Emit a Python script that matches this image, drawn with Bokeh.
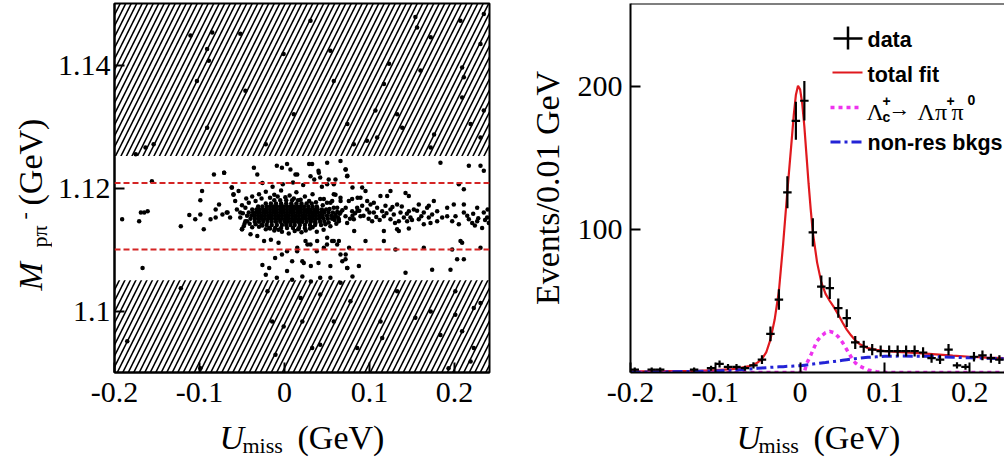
import math
from bokeh.plotting import figure
from bokeh.layouts import row, column
from bokeh.models import Label, Arrow, BoxAnnotation, Span, FixedTicker
from bokeh.embed import file_html
from bokeh.resources import INLINE

# ---------------- left panel data (U_miss, M_ppi in MeV) ----------------
x_ticks = [-0.2, -0.1, 0.0, 0.1, 0.2]
x_tick_labels = ["-0.2", "-0.1", "0", "0.1", "0.2"]
m_ticks = [1.10, 1.12, 1.14]
m_tick_labels = ["1.1", "1.12", "1.14"]
veto_lower = [1.090, 1.105]
veto_upper = [1.1252, 1.150]
signal_window = [1.1100, 1.1208]

core_rows_m = [1113.5, 1114.0, 1114.5, 1115.0, 1115.5, 1116.0, 1116.5, 1117.0, 1117.5, 1118.0]
core_rows_u = [
    [-18, -11, -4, 3, 10, 17, 24],
    [-27, -21, -15, -9, -3, 2, 7, 12, 18, 24, 30, 36],
    [-35, -30, -25, -20, -15, -10, -5, 0, 4, 8, 12, 16, 21, 26, 31, 36, 42, 47],
    [-40, -35, -31, -27, -23, -19, -15, -11, -7, -3, 1, 5, 9, 13, 17, 21, 25, 29, 33, 37, 41, 46, 51, 56],
    [-44, -39, -35, -31, -27, -23, -19, -15, -11, -7, -3, 1, 5, 9, 13, 17, 21, 25, 29, 33, 37, 41, 45, 50, 55, 60],
    [-42, -37, -33, -29, -25, -21, -17, -13, -9, -5, -1, 3, 7, 11, 15, 19, 23, 27, 31, 35, 39, 43, 47, 52, 57],
    [-38, -33, -29, -25, -21, -17, -13, -9, -5, -1, 3, 7, 11, 15, 19, 23, 27, 31, 35, 39, 44, 49],
    [-31, -26, -21, -17, -13, -9, -5, -1, 3, 7, 11, 15, 19, 23, 28, 33, 38],
    [-22, -16, -10, -4, 2, 8, 14, 20, 26, 32],
    [-12, -5, 2, 9, 16],
]

halo_points = [
    (-71, 1122.5), (-36, 1123.3), (-32, 1122.2), (-9, 1123.6), (-3, 1123.3), (3, 1123.9), (7, 1123.0),
    (15, 1122.2), (29, 1123.9), (35, 1121.4), (40, 1122.8), (42, 1121.7), (52, 1121.4), (60, 1121.4),
    (72, 1123.0), (74, 1122.0), (80, 1120.1), (-62, 1120.1), (-60, 1118.9), (-58, 1117.9), (-68, 1116.0),
    (-56, 1116.5), (-52, 1115.2), (-48, 1113.8), (-50, 1113.3), (-40, 1112.5), (-32, 1112.2), (-24, 1111.4),
    (-16, 1111.6), (-7, 1111.1), (3, 1109.7), (15, 1110.3), (27, 1110.8), (38, 1109.7), (50, 1110.8),
    (56, 1111.4), (64, 1111.4), (76, 1110.3), (72, 1109.2), (-26, 1107.5), (-18, 1107.0), (-11, 1108.6),
    (-3, 1109.2), (9, 1108.1), (21, 1108.1), (31, 1107.3), (40, 1107.8), (54, 1107.3), (68, 1108.1),
    (74, 1107.0), (-22, 1105.9), (-9, 1105.4), (3, 1106.5), (9, 1105.1), (21, 1105.6), (31, 1104.8),
    (42, 1105.4), (54, 1105.4), (66, 1104.6), (80, 1105.6), (-64, 1115.2), (80, 1115.5), (86, 1116.3),
    (82, 1113.0), (86, 1118.4), (66, 1117.9), (60, 1118.9), (-50, 1117.2), (-47, 1114.2), (-45, 1118.3),
    (-38, 1118.6), (-30, 1119.0), (-22, 1119.4), (-12, 1118.9), (-4, 1119.6), (6, 1118.8), (14, 1119.3),
    (24, 1118.6), (33, 1119.0), (42, 1118.2), (50, 1117.6), (58, 1116.8), (63, 1115.2), (61, 1114.2),
    (54, 1113.8), (46, 1113.2), (38, 1112.9), (30, 1113.4), (20, 1112.8), (12, 1113.0), (5, 1112.6),
    (-3, 1112.9), (-12, 1113.1), (-22, 1113.3), (-30, 1113.7), (-38, 1113.6), (-44, 1114.6), (-2, 1120.6),
    (10, 1120.9), (-14, 1120.2), (22, 1120.5), (-26, 1120.8), (44, 1120.2),
    (-49, 1115.9), (-46, 1116.8), (-42, 1117.6), (-34, 1117.9), (-27, 1118.3), (-17, 1118.4), (-8, 1118.6),
    (1, 1118.5), (11, 1118.3), (19, 1118.1), (29, 1117.9), (37, 1117.7), (45, 1117.2), (53, 1116.6),
    (62, 1116.1), (65, 1115.8), (59, 1114.8), (52, 1114.4), (43, 1114.0), (33, 1113.6), (25, 1113.1),
    (16, 1113.3), (-7, 1113.2), (-17, 1113.4), (-26, 1113.9), (-34, 1114.1), (-41, 1114.2),
]

left_band_points = [
    (-191, 1114.9), (-171, 1114.6), (-169, 1116.0), (-165, 1116.0), (-161, 1116.2), (-167, 1107.0),
    (-156, 1121.1), (-122, 1113.8), (-112, 1115.6), (-105, 1114.9), (-99, 1115.7), (-95, 1113.3),
    (-99, 1118.0), (-97, 1119.5), (-87, 1114.9), (-81, 1115.2), (-81, 1116.5), (-77, 1117.3),
    (-73, 1115.7), (-67, 1116.0), (-83, 1122.2), (-71, 1122.5), (-62, 1120.1), (-60, 1119.0),
    (-54, 1119.5), (-52, 1116.0), (-46, 1114.6), (-50, 1113.3),
]

right_band_points = [
    (12.9, 1122.2), (32.5, 1123.9), (30.6, 1121.9), (40.4, 1122.5), (50.2, 1124.1), (71.8, 1123.0),
    (73.7, 1121.9), (65.9, 1124.4), (50.2, 1120.6), (58, 1120.6), (91.4, 1120.1), (95.3, 1119.5),
    (112.9, 1118.7), (124.7, 1119.5), (120.8, 1118.7), (142.4, 1119.2), (146.3, 1118.7), (183.5, 1124.1),
    (216.9, 1123.6), (230.6, 1123.6), (234.5, 1122.8), (205.1, 1120.6), (211, 1119.8),
    (54.1, 1117.6), (62, 1116.8), (65.9, 1116.0), (71.8, 1115.4), (75.7, 1117.9), (79.6, 1116.2),
    (85.5, 1116.8), (91.4, 1117.1), (97.3, 1116.5), (101.2, 1117.3), (105.1, 1116.0), (109, 1116.8),
    (114.9, 1116.2), (118.8, 1117.1), (124.7, 1116.5), (128.6, 1115.7), (132.5, 1117.3), (136.5, 1116.0),
    (140.4, 1115.2), (146.3, 1116.2), (152.2, 1116.5), (158, 1117.3), (163.9, 1116.0), (167.8, 1116.8),
    (169.8, 1115.2), (173.7, 1115.7), (179.6, 1114.6), (185.5, 1115.2), (191.4, 1115.4), (197.3, 1114.6),
    (201.2, 1115.4), (205.1, 1114.1), (211, 1116.0), (216.9, 1114.9), (220.8, 1114.3), (226.7, 1114.6),
    (232.5, 1113.5), (238.4, 1115.2), (134.5, 1114.6), (144.3, 1114.6), (148.2, 1115.2), (158, 1114.9),
    (163.9, 1114.1), (171.8, 1114.3), (124.7, 1114.9), (116.9, 1115.4), (103.1, 1114.6), (89.4, 1115.4),
    (81.6, 1114.9), (73.7, 1114.3), (63.9, 1114.6), (58, 1115.2), (46.3, 1116.2), (42.4, 1115.2),
    (38.4, 1116.8), (34.5, 1116.0), (30.6, 1115.2), (26.7, 1116.2), (22.7, 1115.4), (18.8, 1114.6),
    (14.9, 1116.8), (36.5, 1114.3), (48.2, 1114.1), (56.1, 1117.9), (46.3, 1118.2), (58, 1119.0),
    (65.9, 1118.4), (79.6, 1118.2), (89.4, 1118.4), (97.3, 1117.9), (105.1, 1117.6), (199.2, 1117.3),
    (211, 1117.3), (226.7, 1116.8), (234.5, 1116.0), (240.4, 1114.3), (175.7, 1117.9), (191.4, 1116.8),
    (132.5, 1113.3), (146.3, 1113.4), (169.8, 1117.1), (179.6, 1116.2),
    (60, 1115.6), (64, 1114.9), (68, 1116.4), (72, 1116.8), (77, 1115.0), (83, 1115.9), (88, 1116.3),
    (93, 1115.5), (99, 1115.0), (100, 1116.0), (108, 1115.3), (112, 1114.8), (120, 1115.9), (127, 1116.9),
    (130, 1114.3), (138, 1117.0), (144, 1115.8), (150, 1114.8), (156, 1116.3), (161, 1115.4),
    (215, 1115.5), (222, 1115.8), (228, 1115.1), (236, 1114.8), (239, 1116.5), (224, 1113.9),
    (116.9, 1113.0), (134.5, 1113.0), (24.7, 1111.4), (30.6, 1110.8), (38.4, 1111.4), (46.3, 1110.3),
    (58, 1111.4), (62, 1110.8), (65.9, 1109.2), (71.8, 1108.4), (73.7, 1107.0), (87.5, 1107.3),
    (116.9, 1111.4), (130.6, 1110.0), (142.4, 1106.2), (163.9, 1110.3), (173.7, 1106.7), (195.3, 1106.7),
    (203.1, 1108.4), (211, 1108.4), (197.3, 1110.0), (207.1, 1111.4), (209, 1111.1), (230.6, 1110.3),
    (22.7, 1107.8), (14.9, 1109.7), (50.2, 1111.9), (95.3, 1111.4),
]

veto_points = [
    (-110.6, 1144.8), (-85, 1145.3), (-91, 1142.6), (-89, 1140.7), (-103, 1137.4), (-91, 1129.8),
    (-52, 1145.1), (-46, 1135.8), (-1, 1141.8), (11, 1132.0), (-22, 1127.1), (54, 1142.3), (58, 1137.4),
    (74, 1130.4), (81.5, 1127.1), (97, 1127.7), (109, 1128.2), (107, 1132.6), (123, 1140.2),
    (132.5, 1132.0), (138.5, 1129.8), (154, 1147.8), (156, 1146.1), (160, 1139.1), (172, 1144.5),
    (176, 1128.7), (207, 1147.2), (209, 1139.6), (211, 1138.0), (209, 1134.7), (230.6, 1143.4),
    (234.5, 1148.3), (234.5, 1132.6), (219, 1130.4), (230.6, 1128.2), (117, 1136.9), (30.6, 1147.2),
    (-175, 1125.5), (-163.5, 1126.6), (-154, 1127.1), (172, 1126.6),
    (-20, 1103.2), (-14.5, 1098.3), (-1, 1097.5), (19, 1102.1), (21, 1098.3), (42, 1102.7), (42, 1094.5),
    (32.6, 1094.0), (58, 1098.3), (77.6, 1101.6), (85.5, 1094.0), (113, 1098.3), (115, 1095.6),
    (132.5, 1103.2), (154, 1098.9), (172, 1099.9), (183.5, 1096.1), (201, 1103.2), (201, 1099.4),
    (209, 1096.7), (222.7, 1100.5), (230.6, 1101.3), (222.7, 1094.0), (193, 1090.7), (219, 1091.8),
    (-10.6, 1092.9), (-99, 1090.7), (-122, 1103.7), (-185, 1095.1),
]

# ---------------- right panel data ----------------
bin_centers = [-0.195, -0.185, -0.175, -0.165, -0.155, -0.145, -0.135, -0.125, -0.115, -0.105, -0.095,
               -0.085, -0.075, -0.065, -0.055, -0.045, -0.035, -0.025, -0.015, -0.005, 0.005, 0.015,
               0.025, 0.035, 0.045, 0.055, 0.065, 0.075, 0.085, 0.095, 0.105, 0.115, 0.125, 0.135,
               0.145, 0.155, 0.165, 0.175, 0.185, 0.195, 0.205, 0.215, 0.225, 0.235]
counts = [2, 0, 2, 2, 0, 0, 0, 2, 0, 3, 6, 4, 4, 3, 5, 9, 27, 51, 126, 176, 190, 98, 60, 59, 45, 38,
          21, 18, 16, 15, 15, 15, 15, 15, 14, 10, 9, 16, 5, 4, 11, 12, 10, 9]
bin_half_width = 0.005

fit_x = [-0.20, -0.16, -0.12, -0.10, -0.08, -0.07, -0.06, -0.055, -0.05, -0.045, -0.04, -0.035, -0.03,
         -0.025, -0.02, -0.015, -0.01, -0.0075, -0.005, -0.0025, 0.0, 0.0025, 0.005, 0.0075, 0.01,
         0.0125, 0.015, 0.02, 0.025, 0.03, 0.035, 0.04, 0.045, 0.05, 0.055, 0.06, 0.065, 0.07, 0.08,
         0.09, 0.10, 0.12, 0.14, 0.16, 0.18, 0.20, 0.22, 0.24]
fit_total = [0.8, 0.9, 1.2, 1.6, 2.4, 3.2, 4.5, 5.5, 7.0, 9.5, 14, 23, 37, 57, 90, 127, 162, 180, 194,
             200.5, 198, 188, 172, 152, 132, 114, 98, 77, 63, 55, 50, 45.5, 40.5, 35, 30, 26, 22.5,
             20, 17, 15.8, 15, 14.3, 13.5, 12.7, 11.8, 11, 10.4, 10]
fit_lc = [0, 0, 0, 0, 0, 0, 0, 0, 0, 0, 0, 0, 0, 0, 0, 0, 0, 0, 0, 0, 0, 0, 0,
          6, 9, 12, 15.5, 22, 25.5, 27.8, 28.8, 27.8, 25, 21, 16, 11, 6.8, 4.5, 1.8, 0.5, 0.1,
          0, 0, 0, 0, 0, 0, 0]
fit_bkg = [0.2, 0.4, 0.8, 1.1, 1.6, 2.0, 2.4, 2.6, 2.9, 3.2, 3.4, 3.6, 3.8, 4.0, 4.1, 4.3, 4.4, 4.5,
           4.6, 4.7, 4.8, 4.9, 5.1, 5.3, 5.5, 5.7, 5.9, 6.3, 6.7, 7.0, 7.4, 7.7, 8.1, 8.5, 8.9, 9.3,
           9.7, 10.0, 10.6, 11.0, 11.3, 11.5, 11.4, 11.1, 10.7, 10.3, 9.9, 9.6]
y_ticks = [100, 200]
y_tick_labels = ["100", "200"]

# ---------------- styling ----------------
SERIF = "Liberation Serif"
SANS = "Liberation Sans"
RED = "#e0191e"
MAGENTA = "#ee33ee"
BLUE = "#2323d6"
DASHRED = "#d42424"
PLOT_H = 417
STRIP_H = 459 - PLOT_H


def style_axes(p, yticks, ylabels):
    p.xaxis.ticker = FixedTicker(ticks=x_ticks)
    p.xaxis.major_label_overrides = {t: s for t, s in zip(x_ticks, x_tick_labels)}
    p.yaxis.ticker = FixedTicker(ticks=yticks)
    p.yaxis.major_label_overrides = {t: s for t, s in zip(yticks, ylabels)}
    for ax in (p.xaxis[0], p.yaxis[0]):
        ax.axis_line_width = 2
        ax.axis_line_color = "black"
        ax.major_tick_in = 10
        ax.major_tick_out = 0
        ax.major_tick_line_width = 2
        ax.major_tick_line_color = "black"
        ax.minor_tick_line_color = None
        ax.major_label_text_font = SERIF
        ax.major_label_text_font_size = "30px"
        ax.major_label_text_color = "black"
    p.xaxis.major_label_standoff = 10
    p.grid.visible = False


def add_text(p, text, x, y, size, font=SERIF, style="normal", angle=0.0, color="black"):
    p.add_layout(Label(x=x, y=y, x_units="screen", y_units="screen", text=text,
                       text_font=font, text_font_size=f"{size}px", text_font_style=style,
                       text_color=color, angle=angle, text_align="left",
                       text_baseline="alphabetic"))


def strip(w, h):
    s = figure(width=w, height=h, x_range=(0, w), y_range=(0, h), output_backend="svg",
               toolbar_location=None, x_axis_type=None, y_axis_type=None, min_border=0,
               frame_align=False)
    s.outline_line_color = None
    s.grid.visible = False
    return s


# ---------------- left panel ----------------
p1 = figure(width=448, height=PLOT_H, x_range=(-0.2, 0.2412), y_range=(1.09, 1.15),
            output_backend="svg", toolbar_location=None, frame_align=False,
            min_border_left=62, min_border_right=11, min_border_top=3, min_border_bottom=PLOT_H - 372)
style_axes(p1, m_ticks, m_tick_labels)
p1.yaxis.major_label_standoff = 4
p1.outline_line_color = "black"
p1.outline_line_width = 2
p1.outline_line_alpha = 1.0

for lo, hi in (veto_lower, veto_upper):
    p1.add_layout(BoxAnnotation(bottom=lo, top=hi, fill_color=None, fill_alpha=0, line_color=None,
                                hatch_pattern="/", hatch_scale=11, hatch_weight=1.6,
                                hatch_color="black", level="underlay"))

u_all = []
m_all = []
for m_val, u_row in zip(core_rows_m, core_rows_u):
    for u_val in u_row:
        u_all.append(u_val / 1000.0)
        m_all.append(m_val / 1000.0)
for group in (halo_points, left_band_points, right_band_points, veto_points):
    for u_val, m_val in group:
        u_all.append(u_val / 1000.0)
        m_all.append(m_val / 1000.0)

p1.scatter(u_all, m_all, size=4.5, marker="circle", color="black", line_color=None)

for loc in signal_window:
    p1.add_layout(Span(location=loc, dimension="width", line_color=DASHRED, line_width=2,
                       line_dash="6 3"))

# y title strip: M_{p pi^-} (GeV), rotated
ys1 = strip(52, PLOT_H)
add_text(ys1, "M", 30, PLOT_H - 290, 34, style="italic", angle=math.pi / 2)
add_text(ys1, "pπ", 39, PLOT_H - 247, 22, angle=math.pi / 2)
add_text(ys1, "-", 23, PLOT_H - 219, 22, angle=math.pi / 2)
add_text(ys1, "(GeV)", 30, PLOT_H - 205, 34, angle=math.pi / 2)

# x title strips
xs1 = strip(500, STRIP_H)
add_text(xs1, "U", 219, 22, 34, style="italic")
add_text(xs1, "miss", 242, 14, 22)
add_text(xs1, "(GeV)", 297, 22, 34)

# ---------------- right panel ----------------
p2 = figure(width=504, height=PLOT_H, x_range=(-0.2, 0.241), y_range=(0, 258),
            output_backend="svg", toolbar_location=None, frame_align=False,
            min_border_left=130, min_border_right=0, min_border_top=3, min_border_bottom=PLOT_H - 372)
style_axes(p2, y_ticks, y_tick_labels)
p2.yaxis.major_label_standoff = 8
p2.yaxis.axis_label = "Events/0.01 GeV"
p2.yaxis.axis_label_text_font = SERIF
p2.yaxis.axis_label_text_font_size = "34px"
p2.yaxis.axis_label_text_font_style = "normal"
p2.yaxis.axis_label_text_color = "black"
p2.yaxis.axis_label_standoff = 9
p2.outline_line_color = None
p2.add_layout(Span(location=p2.y_range.end, dimension="width", line_color="black", line_width=2))

p2.line(fit_x, fit_total, line_color=RED, line_width=2.2)
p2.line(fit_x, fit_lc, line_color=MAGENTA, line_width=3.5, line_dash="4 4")
p2.line(fit_x, fit_bkg, line_color=BLUE, line_width=3, line_dash="10 4 3 4")

xs_b, ns = [], []
for c, n in zip(bin_centers, counts):
    if n > 0:
        xs_b.append(c)
        ns.append(n)
err = [math.sqrt(n) for n in ns]
p2.segment(x0=xs_b, y0=[n - e for n, e in zip(ns, err)], x1=xs_b, y1=[n + e for n, e in zip(ns, err)],
           line_color="black", line_width=2.2)
p2.segment(x0=[c - bin_half_width for c in xs_b], y0=ns, x1=[c + bin_half_width for c in xs_b], y1=ns,
           line_color="black", line_width=2.2)


def leg_line(x0, x1, y, color, width, dash="solid"):
    p2.add_layout(Arrow(x_start=x0, y_start=y, x_end=x1, y_end=y, start_units="screen",
                        end_units="screen", start=None, end=None, line_color=color,
                        line_width=width, line_dash=dash))


leg_line(203, 232, 334, "black", 2.5)
p2.add_layout(Arrow(x_start=217.5, y_start=346, x_end=217.5, y_end=323, start_units="screen",
                    end_units="screen", start=None, end=None, line_color="black", line_width=2.5))
add_text(p2, "data", 237, 332.5, 21.5, font=SANS, style="bold")
leg_line(202, 232, 300, RED, 2.2)
add_text(p2, "total fit", 237, 297.5, 21.5, font=SANS, style="bold")
leg_line(200, 231, 265, MAGENTA, 3.5, "4 4")
add_text(p2, "Λ", 236, 261, 24)
add_text(p2, "+", 252, 272, 14, font=SANS, style="bold")
add_text(p2, "c", 252, 256, 14, font=SANS, style="bold")
add_text(p2, "→", 258, 264, 22)
add_text(p2, "Λπ", 287, 261, 24)
add_text(p2, "+", 316, 272, 14, font=SANS, style="bold")
add_text(p2, "π", 321, 261, 24)
add_text(p2, "0", 337, 273, 14, font=SANS, style="bold")
leg_line(200, 231, 230.5, BLUE, 3, "10 4 3 4")
add_text(p2, "non-res bkgs", 237, 229.5, 21.5, font=SANS, style="bold")

xs2 = strip(504, STRIP_H)
add_text(xs2, "U", 236, 22, 34, style="italic")
add_text(xs2, "miss", 258, 14, 22)
add_text(xs2, "(GeV)", 313, 22, 34)

layout = row(column(row(ys1, p1), xs1), column(p2, xs2))
open("out.html", "w").write(file_html(layout, INLINE))
